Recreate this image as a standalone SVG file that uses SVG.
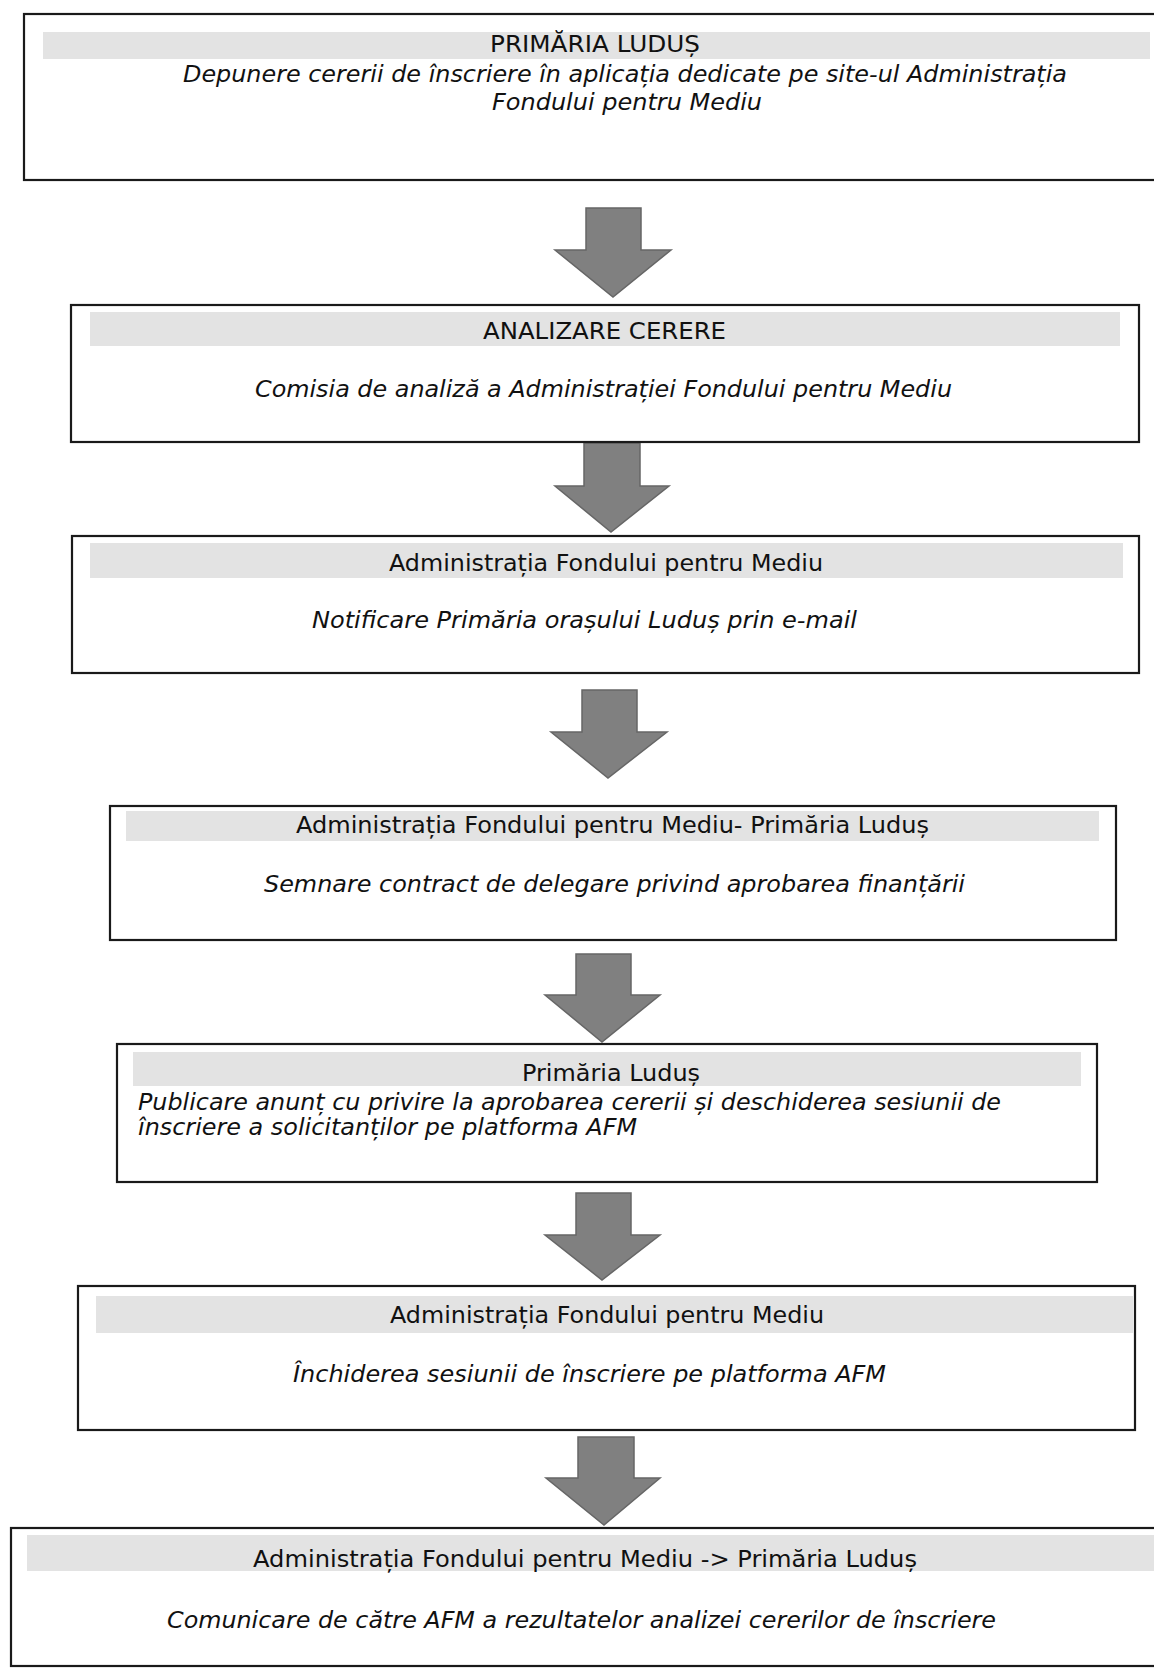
<svg xmlns="http://www.w3.org/2000/svg" width="1154" height="1670" viewBox="0 0 1154 1670">
<style>
.box{fill:#ffffff;stroke:#1a1a1a;stroke-width:2.2}
.band{fill:#e3e3e3}
.h{font-family:"DejaVu Sans","Liberation Sans",sans-serif;font-size:23px;fill:#111;text-anchor:start}
.i{font-family:"DejaVu Sans","Liberation Sans",sans-serif;font-size:23px;font-style:italic;fill:#111;text-anchor:start}
.arr{fill:#808080;stroke:#666;stroke-width:1.5;stroke-linejoin:miter}
</style>
<rect width="1154" height="1670" fill="#ffffff"/>
<g id="connectors">
<polygon class="arr" points="586,208 641,208 641,250 671,250 613,297 555,250 586,250"/>
<polygon class="arr" points="584,443 640,443 640,486 669,486 611,532 555,486 584,486"/>
<polygon class="arr" points="582,690 637,690 637,732 667,732 608,778 551,732 582,732"/>
<polygon class="arr" points="576,954 631,954 631,995 660,995 602,1042 545,995 576,995"/>
<polygon class="arr" points="576,1193 631,1193 631,1235 660,1235 602,1280 545,1235 576,1235"/>
<polygon class="arr" points="578,1437 634,1437 634,1478 660,1478 604,1525 546,1478 578,1478"/>
</g>
<g id="node1">
<rect class="box" x="24" y="14" width="1140" height="166"/>
<rect class="band" x="43" y="32" width="1107" height="27"/>
<text class="h" x="490" y="52" textLength="210" lengthAdjust="spacingAndGlyphs">PRIMĂRIA LUDUȘ</text>
<text class="i" x="183" y="82" textLength="884" lengthAdjust="spacingAndGlyphs">Depunere cererii de înscriere în aplicația dedicate pe site-ul Administrația</text>
<text class="i" x="492" y="110" textLength="270" lengthAdjust="spacingAndGlyphs">Fondului pentru Mediu</text>
</g>
<g id="node2">
<rect class="box" x="71" y="305" width="1068" height="137"/>
<rect class="band" x="90" y="312" width="1030" height="34"/>
<text class="h" x="483" y="339" textLength="243" lengthAdjust="spacingAndGlyphs">ANALIZARE CERERE</text>
<text class="i" x="255" y="397" textLength="697" lengthAdjust="spacingAndGlyphs">Comisia de analiză a Administrației Fondului pentru Mediu</text>
</g>
<g id="node3">
<rect class="box" x="72" y="536" width="1067" height="137"/>
<rect class="band" x="90" y="543" width="1033" height="35"/>
<text class="h" x="389" y="571" textLength="434" lengthAdjust="spacingAndGlyphs">Administrația Fondului pentru Mediu</text>
<text class="i" x="312" y="628" textLength="545" lengthAdjust="spacingAndGlyphs">Notificare Primăria orașului Luduș prin e-mail</text>
</g>
<g id="node4">
<rect class="box" x="110" y="806" width="1006" height="134"/>
<rect class="band" x="126" y="811" width="973" height="30"/>
<text class="h" x="296" y="833" textLength="633" lengthAdjust="spacingAndGlyphs">Administrația Fondului pentru Mediu- Primăria Luduș</text>
<text class="i" x="264" y="892" textLength="701" lengthAdjust="spacingAndGlyphs">Semnare contract de delegare privind aprobarea finanțării</text>
</g>
<g id="node5">
<rect class="box" x="117" y="1044" width="980" height="138"/>
<rect class="band" x="133" y="1052" width="948" height="34"/>
<text class="h" x="522" y="1081" textLength="178" lengthAdjust="spacingAndGlyphs">Primăria Luduș</text>
<text class="i" x="138" y="1110" textLength="863" lengthAdjust="spacingAndGlyphs">Publicare anunț cu privire la aprobarea cererii și deschiderea sesiunii de</text>
<text class="i" x="138" y="1135" textLength="499" lengthAdjust="spacingAndGlyphs">înscriere a solicitanților pe platforma AFM</text>
</g>
<g id="node6">
<rect class="box" x="78" y="1286" width="1057" height="144"/>
<rect class="band" x="96" y="1296" width="1037" height="37"/>
<text class="h" x="390" y="1323" textLength="434" lengthAdjust="spacingAndGlyphs">Administrația Fondului pentru Mediu</text>
<text class="i" x="293" y="1382" textLength="593" lengthAdjust="spacingAndGlyphs">Închiderea sesiunii de înscriere pe platforma AFM</text>
</g>
<g id="node7">
<rect class="box" x="11" y="1528" width="1150" height="138"/>
<rect class="band" x="27" y="1535" width="1127" height="36"/>
<text class="h" x="253" y="1567" textLength="664" lengthAdjust="spacingAndGlyphs">Administrația Fondului pentru Mediu -&gt; Primăria Luduș</text>
<text class="i" x="167" y="1628" textLength="829" lengthAdjust="spacingAndGlyphs">Comunicare de către AFM a rezultatelor analizei cererilor de înscriere</text>
</g>
</svg>
